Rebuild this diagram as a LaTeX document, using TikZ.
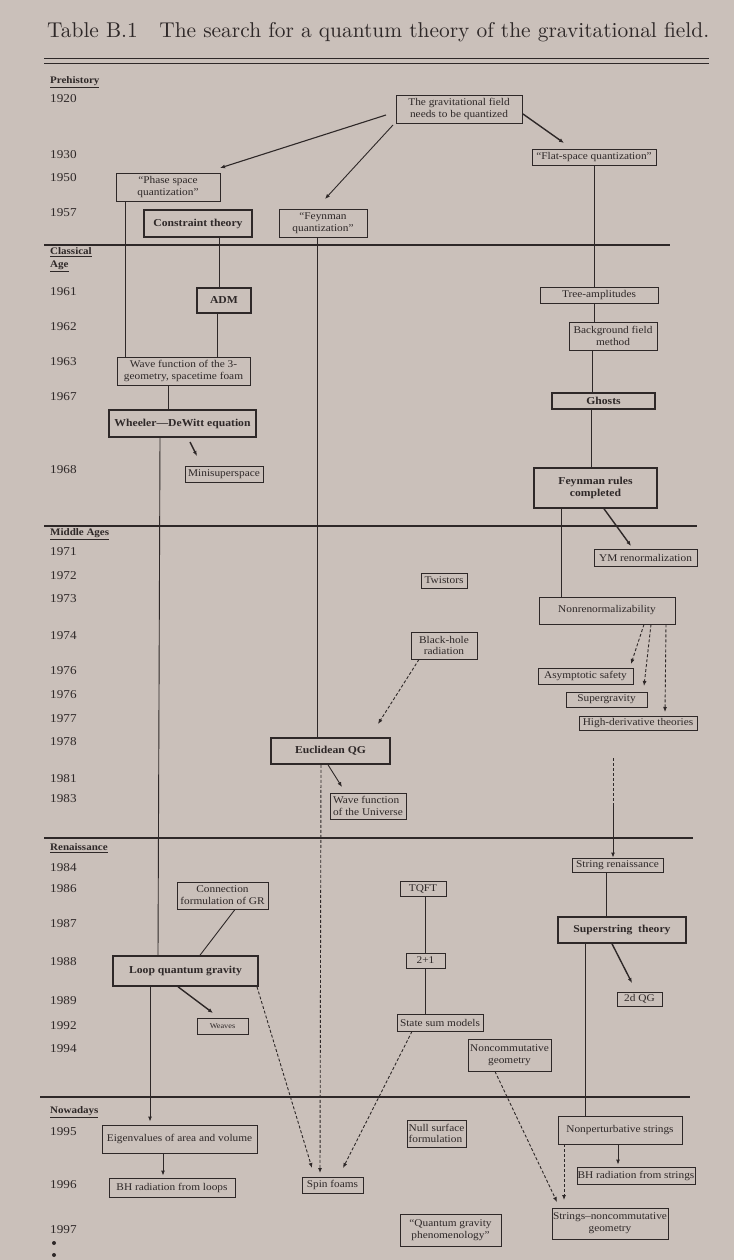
\documentclass[tikz,border=0pt]{standalone}
\usepackage{fontspec}
\usetikzlibrary{arrows.meta}
\newfontfamily\lib{Liberation Serif}[FakeStretch=1.1]
\definecolor{paper}{RGB}{202,192,186}
\definecolor{ink}{RGB}{46,40,40}

% box given by its corners: [style]{name}{x1}{y1}{x2}{y2}{text}
\newcommand\bx[7][]{%
  \pgfmathsetmacro\bxw{#5-#3}\pgfmathsetmacro\bxh{#6-#4}%
  \node[box,#1,minimum width=\bxw pt,minimum height=\bxh pt] (#2) at ({(#3+#5)/2},{(#4+#6)/2}) {#7};}

\begin{document}
\begin{tikzpicture}[x=1pt,y=-1pt,
  box/.style={draw=ink,line width=0.9pt,inner sep=0pt,align=center,text=ink,
              font=\lib\fontsize{10.3}{11.8}\selectfont},
  bbox/.style={line width=1.6pt,font=\lib\bfseries\fontsize{10.6}{11.8}\selectfont},
  btext/.style={line width=1.1pt,font=\lib\bfseries\fontsize{10.6}{11.8}\selectfont},
  smalltext/.style={font=\lib\fontsize{7.5}{8}\selectfont},
  lefttext/.style={align=left},
  year/.style={anchor=west,inner sep=0pt,text=ink,font=\lib\fontsize{12}{13}\selectfont},
  era/.style={anchor=west,inner sep=0pt,text=ink,align=left,font=\lib\bfseries\fontsize{10}{12.5}\selectfont},
  rule/.style={draw=ink,line width=1.3pt},
  conn/.style={draw=ink,line width=0.9pt},
  arr/.style={conn,-{Latex[length=5pt,width=4pt]}},
  tarr/.style={arr,line width=1.4pt},
  darr/.style={arr,dash pattern=on 3pt off 2pt},
  dline/.style={conn,dash pattern=on 3pt off 2pt}]

\useasboundingbox (0,0) rectangle (734,1260);
\fill[paper] (0,0) rectangle (734,1260);

% title and double rule
\node[anchor=base west,inner sep=0pt,text=ink] (title) at (47,37.5)
  {\resizebox{662pt}{!}{Table B.1\quad The search for a quantum theory of the gravitational field.}};
\draw[rule,line width=1.1pt] (44,58.5) -- (709,58.5);
\draw[rule,line width=1.6pt] (44,63.5) -- (709,63.5);

% era separators
\draw[rule] (44,245) -- (670,245);
\draw[rule] (44,526) -- (697,526);
\draw[rule] (44,838) -- (693,838);
\draw[rule] (40,1097) -- (690,1097);

% era headings
\node[era] (e1) at (50,82) {\underline{Prehistory}};
\node[era] (e2) at (50,259.5) {\underline{Classical}\\\underline{Age}};
\node[era] (e3) at (50,534) {\underline{Middle Ages}};
\node[era] (e4) at (50,848) {\underline{Renaissance}};
\node[era] (e5) at (50,1112) {\underline{Nowadays}};

% years
\foreach \yy/\lab [count=\i] in {99/1920,155/1930,178/1950,213/1957,292/1961,327/1962,
  362/1963,397/1967,470/1968,552/1971,576/1972,599/1973,636/1974,671/1976,695/1976,
  719/1977,742/1978,779/1981,799/1983,868/1984,889/1986,924/1987,962/1988,1001/1989,
  1026/1992,1049/1994,1132/1995,1185/1996,1230/1997}
  \node[year] (yr\i) at (50,\yy) {\lab};
\fill[ink] (54,1243) circle (2);
\fill[ink] (54,1255) circle (2);

% Prehistory
\bx{grav}{396}{95}{522}{123}{The gravitational field\\needs to be quantized}
\bx{phase}{116}{173}{220}{201}{“Phase space\\quantization”}
\bx[bbox]{constr}{144}{210}{252}{237}{Constraint theory}
\bx{feyq}{279}{209}{367}{237}{“Feynman\\quantization”}
\bx{flat}{532}{149}{656}{165}{“Flat-space quantization”}

% Classical Age
\bx[btext]{adm}{197}{288}{251}{313}{ADM}
\bx{wave3}{117}{357}{250}{385}{Wave function of the 3-\\geometry, spacetime foam}
\bx[bbox]{wdw}{109}{410}{256}{437}{Wheeler—DeWitt equation}
\bx{minisup}{185}{466}{263}{482}{Minisuperspace}
\bx{tree}{540}{287}{658}{303}{Tree-amplitudes}
\bx{bgf}{569}{322}{657}{350}{Background field\\method}
\bx[btext]{ghosts}{552}{393}{655}{409}{Ghosts}
\bx[bbox]{feynr}{534}{468}{657}{508}{Feynman rules\\completed}

% Middle Ages
\bx{ym}{594}{549}{697}{566}{YM renormalization}
\bx{twist}{421}{573}{467}{588}{Twistors}
\bx{nonren}{539}{597}{675}{624}{Nonrenormalizability}
\bx{bhr}{411}{632}{477}{659}{Black-hole\\radiation}
\bx{asym}{538}{668}{633}{684}{Asymptotic safety}
\bx{sugra}{566}{692}{647}{707}{Supergravity}
\bx{highd}{579}{716}{697}{730}{High-derivative theories}
\bx[bbox]{eucl}{271}{738}{390}{764}{Euclidean QG}
\bx[lefttext]{wfu}{330}{793}{406}{819}{Wave function\\of the Universe}

% Renaissance
\bx{strren}{572}{858}{663}{872}{String renaissance}
\bx{cgr}{177}{882}{268}{909}{Connection\\formulation of GR}
\bx{tqft}{400}{881}{446}{896}{TQFT}
\bx[bbox]{sstr}{558}{917}{686}{943}{Superstring\ \ theory}
\bx{twoone}{406}{953}{445}{968}{2+1}
\bx[bbox]{lqg}{113}{956}{258}{986}{Loop quantum gravity}
\bx{twodqg}{617}{992}{662}{1006}{2d QG}
\bx[smalltext]{weaves}{197}{1018}{248}{1034}{Weaves}
\bx{statesum}{397}{1014}{483}{1031}{State sum models}
\bx{noncomm}{468}{1039}{551}{1071}{Noncommutative\\geometry}

% Nowadays
\bx{eigen}{102}{1125}{257}{1153}{Eigenvalues of area and volume}
\bx[lefttext]{nullsurf}{407}{1120}{466}{1147}{Null surface\\formulation}
\bx{nonpert}{558}{1116}{682}{1144}{Nonperturbative strings}
\bx{bhloops}{109}{1178}{235}{1197}{BH radiation from loops}
\bx{spinf}{302}{1177}{363}{1193}{Spin foams}
\bx{bhstr}{577}{1167}{695}{1184}{BH radiation from strings}
\bx{strnc}{552}{1208}{668}{1239}{Strings–noncommutative\\geometry}
\bx{qgp}{400}{1214}{501}{1246}{“Quantum gravity\\phenomenology”}

% free ends of the arrows
\coordinate (g1) at (386,115);   \coordinate (g1e) at (220,168);
\coordinate (g2) at (393,125);   \coordinate (g2e) at (325,199);
\coordinate (g3) at (523,114);   \coordinate (g3e) at (564,143);
\coordinate (w1) at (190,442);   \coordinate (w1e) at (197,456);
\coordinate (f1e) at (631,546);
\coordinate (u1e) at (342,787);
\coordinate (s1e) at (632,983);
\coordinate (l1e) at (213,1013);
\coordinate (b1e) at (378,724);
\coordinate (n1e) at (631,664);
\coordinate (n2e) at (644,686);
\coordinate (n3e) at (665,712);
\coordinate (sp1) at (312,1168);
\coordinate (sp2) at (320,1173);
\coordinate (sp3) at (343,1168);
\coordinate (nc1) at (557,1202);
\coordinate (nc2) at (564,1200);
\coordinate (sr0) at (613,758);
\coordinate (sr1) at (613,803);

% solid tree lines
\draw[conn] (125,0 |- phase.south) -- (125,0 |- wave3.north);
\draw[conn] (219,0 |- constr.south) -- (219,0 |- adm.north);
\draw[conn] (217,0 |- adm.south) -- (217,0 |- wave3.north);
\draw[conn] (168,0 |- wave3.south) -- (168,0 |- wdw.north);
\draw[conn] (160,0 |- wdw.south) -- (158,0 |- lqg.north);
\draw[conn] (317,0 |- feyq.south) -- (317,0 |- eucl.north);
\draw[conn] (594,0 |- flat.south) -- (594,0 |- tree.north);
\draw[conn] (594,0 |- tree.south) -- (594,0 |- bgf.north);
\draw[conn] (592,0 |- bgf.south) -- (592,0 |- ghosts.north);
\draw[conn] (591,0 |- ghosts.south) -- (591,0 |- feynr.north);
\draw[conn] (561,0 |- feynr.south) -- (561,0 |- nonren.north);
\draw[conn] (606,0 |- strren.south) -- (606,0 |- sstr.north);
\draw[conn] (585,0 |- sstr.south) -- (585,0 |- nonpert.north);
\draw[conn] (425,0 |- tqft.south) -- (425,0 |- twoone.north);
\draw[conn] (425,0 |- twoone.south) -- (425,0 |- statesum.north);
\draw[conn] (235,0 |- cgr.south) -- (200,0 |- lqg.north);

% solid arrows
\draw[arr,line width=1.1pt] (g1) -- (g1e);
\draw[arr] (g2) -- (g2e);
\draw[tarr] (g3) -- (g3e);
\draw[tarr] (w1) -- (w1e);
\draw[tarr] (604,0 |- feynr.south) -- (f1e);
\draw[arr] (328,0 |- eucl.south) -- (u1e);
\draw[tarr] (612,0 |- sstr.south) -- (s1e);
\draw[tarr] (178,0 |- lqg.south) -- (l1e);
\draw[arr,shorten >=3pt] (150,0 |- lqg.south) -- (150,0 |- eigen.north);
\draw[arr,shorten >=2pt] (163,0 |- eigen.south) -- (163,0 |- bhloops.north);
\draw[arr,shorten >=2pt] (618,0 |- nonpert.south) -- (618,0 |- bhstr.north);

% dashed arrows
\draw[darr] (419,0 |- bhr.south) -- (b1e);
\draw[darr] (644,0 |- nonren.south) -- (n1e);
\draw[darr] (651,0 |- nonren.south) -- (n2e);
\draw[darr] (666,0 |- nonren.south) -- (n3e);
\draw[darr] (321,0 |- eucl.south) -- (sp2);
\draw[darr] (257,0 |- lqg.south) -- (sp1);
\draw[darr] (412,0 |- statesum.south) -- (sp3);
\draw[darr] (495,0 |- noncomm.south) -- (nc1);
\draw[darr] (564,0 |- nonpert.south) -- (nc2);
\draw[dline] (sr0) -- (sr1);
\draw[arr] (sr1) -- (613,0 |- strren.north);

\end{tikzpicture}
\end{document}
